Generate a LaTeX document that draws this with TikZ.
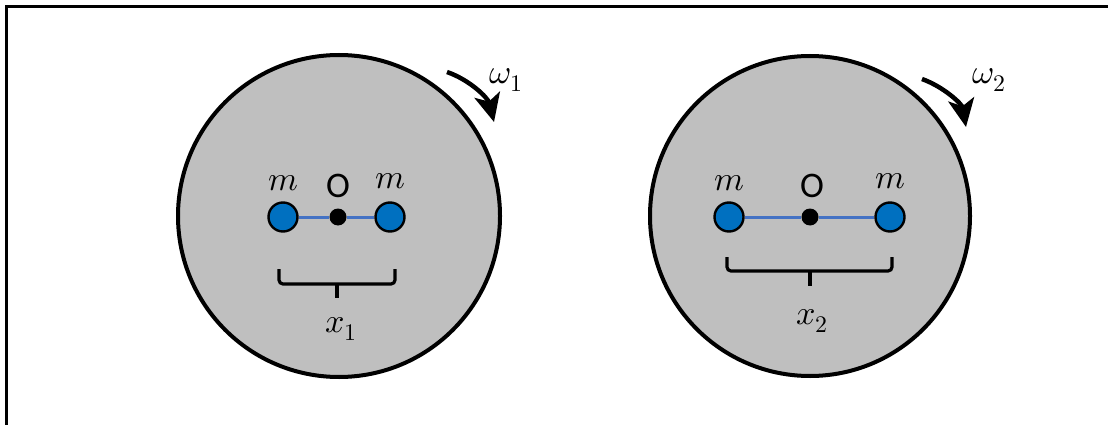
\documentclass[tikz,border=0pt]{standalone}
\usepackage{fontspec}
\setmainfont{Carlito}
\usepackage{unicode-math}
\setmathfont{Latin Modern Math}
\usetikzlibrary{arrows.meta}
\definecolor{diskgray}{HTML}{BFBFBF}
\definecolor{massblue}{HTML}{0070C0}
\definecolor{rodblue}{HTML}{4472C4}
\tikzset{
  disk/.style={circle, draw=black, fill=diskgray, line width=4pt, minimum size=#1, inner sep=0pt},
  mass/.style={circle, draw=black, fill=massblue, line width=2.4pt, minimum size=29pt, inner sep=0pt},
  pivot/.style={circle, fill=black, minimum size=17pt, inner sep=0pt},
  rod/.style={rodblue, line width=3pt},
  brace/.style={line width=3.2pt, rounded corners=4pt},
  spin/.style={line width=4.5pt, -{Stealth[length=28pt, width=26pt, inset=7pt]}},
  lbl/.style={font=\fontsize{34}{38}\selectfont, inner sep=0pt},
  olbl/.style={font=\fontsize{36}{40}\selectfont, inner sep=0pt},
}
\begin{document}
\begin{tikzpicture}[x=1pt,y=-1pt]
\useasboundingbox (0,0) rectangle (1108,425);
\clip (0,0) rectangle (1108,425);
\draw[line width=3pt] (6,7) rectangle (1130,450);

% Disk 1
\node[disk=322pt] (d1) at (339,216) {};
\node[mass] (m1L) at (283,217) {};
\node[mass] (m1R) at (390,217) {};
\node[pivot] (o1) at (338,217) {};
\draw[rod] (m1L.east) -- (o1.west);
\draw[rod] (o1.east) -- (m1R.west);
\node[lbl] (lm1L) at (283,183) {$m$};
\node[lbl] (lm1R) at (390,181) {$m$};
\node[olbl] (lo1) at (338,186) {O};
\draw[brace] (279,269) -- (279,284) -- (395,284) -- (395,269);
\coordinate (b1) at (337,284);
\coordinate (b1e) at (337,298);
\draw[line width=3.2pt] (b1) -- (b1e);
\node[lbl] (x1) at (341,329) {$x_1$};
\coordinate (a1s) at (447,72);
\coordinate (a1e) at (494,122);
\draw[spin] (a1s) .. controls (470,80) and (488,98) .. (a1e);
\node[lbl] (w1) at (506,80) {$\omega_1$};

% Disk 2
\node[disk=320pt] (d2) at (810,216) {};
\node[mass] (m2L) at (729,217) {};
\node[mass] (m2R) at (890,217) {};
\node[pivot] (o2) at (810,217) {};
\draw[rod] (m2L.east) -- (o2.west);
\draw[rod] (o2.east) -- (m2R.west);
\node[lbl] (lm2L) at (729,183) {$m$};
\node[lbl] (lm2R) at (890,181) {$m$};
\node[olbl] (lo2) at (812,186) {O};
\draw[brace] (727,257) -- (727,271) -- (892,271) -- (892,257);
\coordinate (b2) at (810,271);
\coordinate (b2e) at (810,286);
\draw[line width=3.2pt] (b2) -- (b2e);
\node[lbl] (x2) at (812,321) {$x_2$};
\coordinate (a2s) at (922,79);
\coordinate (a2e) at (966,127);
\draw[spin] (a2s) .. controls (944,87) and (962,104) .. (a2e);
\node[lbl] (w2) at (989,80) {$\omega_2$};
\end{tikzpicture}
\end{document}
